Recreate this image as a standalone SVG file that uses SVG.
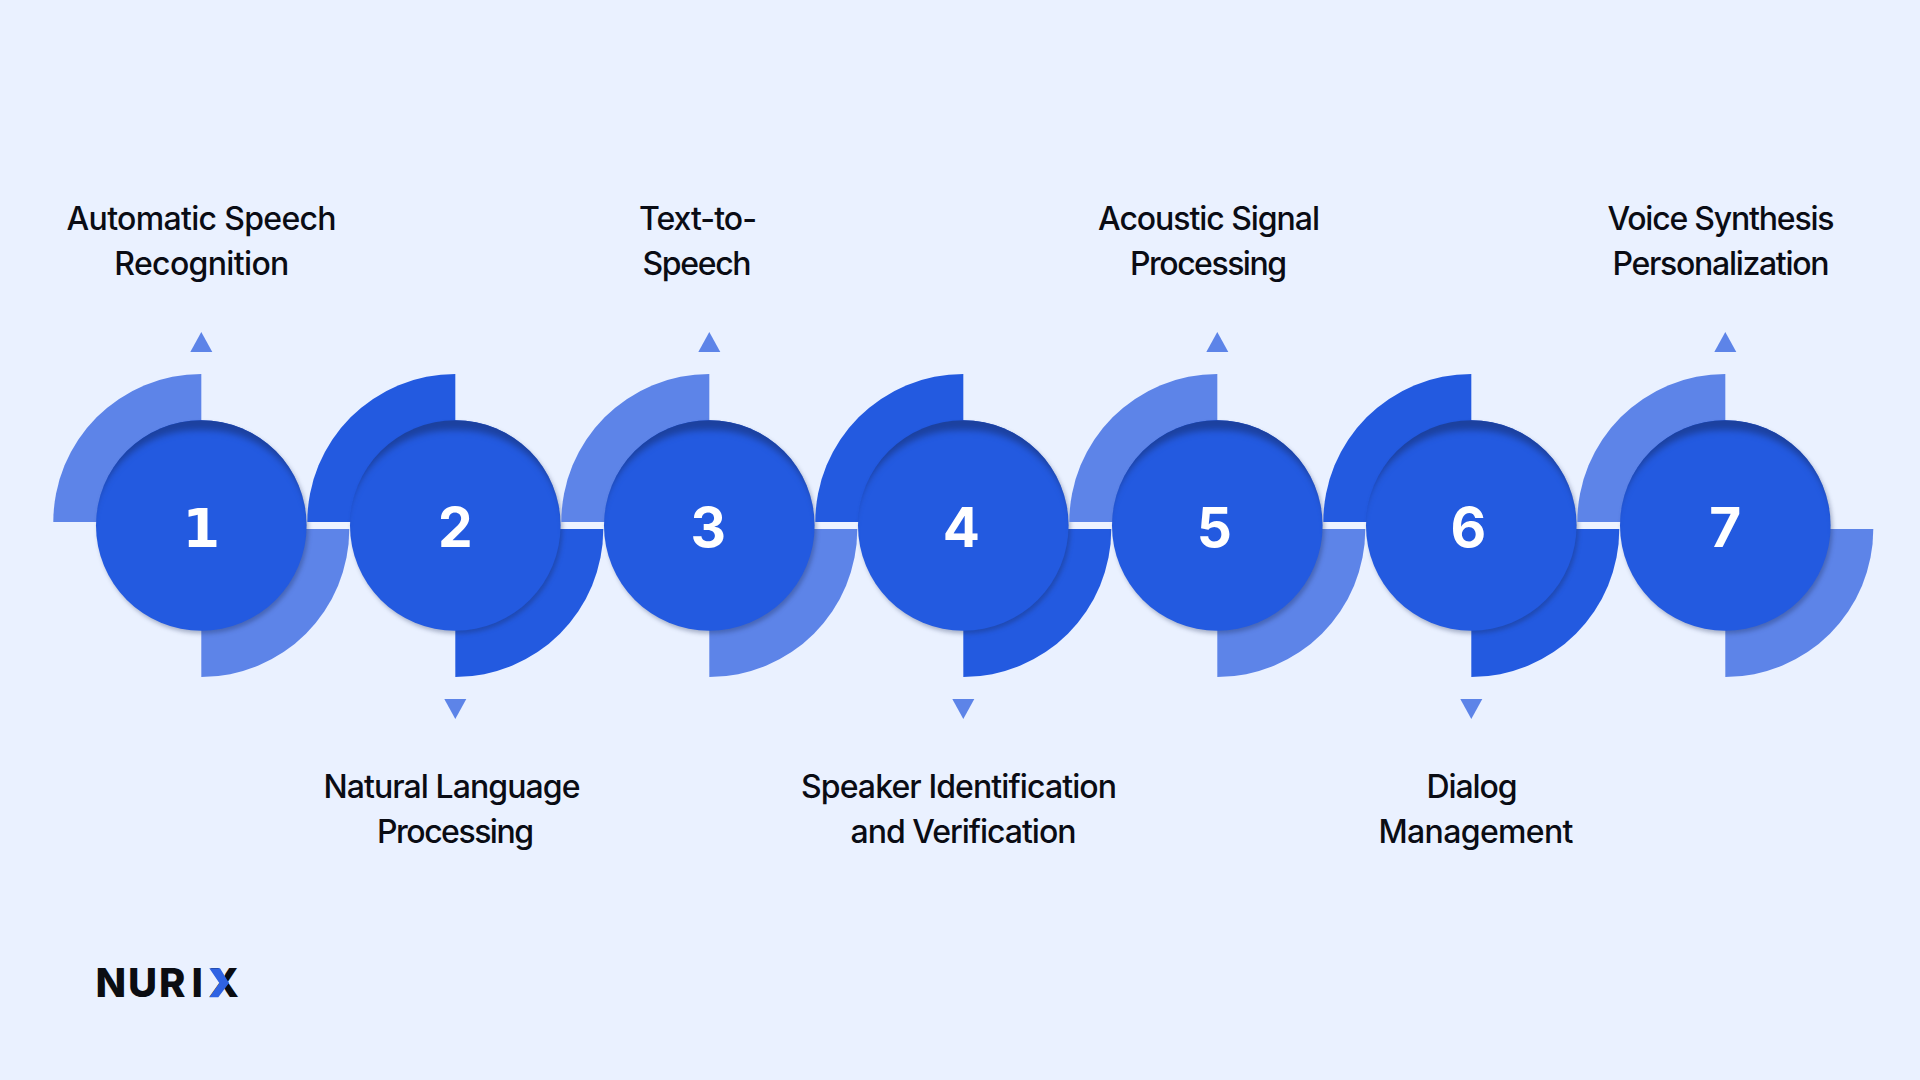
<svg xmlns="http://www.w3.org/2000/svg" width="1920" height="1080" viewBox="0 0 1920 1080">
<defs>
<style>
.dark{fill:#235AE0}
.light{fill:#5D84E8}
.tri{fill:#5D84E8}
.disc{fill:#235AE0;filter:url(#disc)}
.num{font-family:"Inter","DejaVu Sans",sans-serif;font-weight:700;font-size:55px;fill:#fff;text-anchor:middle}
.numd{font-family:"DejaVu Sans",sans-serif;font-weight:700;font-size:54px;fill:#fff;text-anchor:middle}
.lab{font-family:"Inter","Noto Sans",sans-serif;font-size:32px;font-weight:450;fill:#0a0c14;text-anchor:middle}
.bar{fill:#EEF3FF}
.logo{font-family:"Inter","Liberation Sans",sans-serif;font-weight:800;font-size:40px;fill:#0b0d12}
</style>
<filter id="disc" x="-15%" y="-15%" width="130%" height="130%" color-interpolation-filters="sRGB">
<feMorphology in="SourceAlpha" operator="dilate" radius="5" result="m"/>
<feGaussianBlur in="m" stdDeviation="3" result="b"/>
<feOffset in="b" dy="15" result="o"/>
<feComposite in="SourceAlpha" in2="o" operator="out" result="edge"/>
<feFlood flood-color="#1C419F" flood-opacity="1"/>
<feComposite in2="edge" operator="in" result="inner"/>
<feOffset in="SourceAlpha" dx="1.5" dy="3" result="d"/>
<feGaussianBlur in="d" stdDeviation="2" result="db"/>
<feFlood flood-color="#1a2a55" flood-opacity=".32"/>
<feComposite in2="db" operator="in" result="drop"/>
<feMerge><feMergeNode in="drop"/><feMergeNode in="SourceGraphic"/><feMergeNode in="inner"/></feMerge>
</filter>
<path id="tl" d="M0 -3.5V-151.5A148 148 0 0 0 -148 -3.5Z"/>
<path id="br" d="M0 3.5V151.5A148 148 0 0 0 148 3.5Z"/>
<path id="up" d="M-11 -173.5L0 -193.5L11 -173.5Z"/>
<path id="down" d="M-11 173.5L0 193.5L11 173.5Z"/>
</defs>
<rect width="1920" height="1080" fill="#EAF1FF"/>
<g id="connectors">
<rect class="bar" x="306" y="522" width="44" height="7"/>
<rect class="bar" x="560" y="522" width="44" height="7"/>
<rect class="bar" x="814" y="522" width="44" height="7"/>
<rect class="bar" x="1068" y="522" width="44" height="7"/>
<rect class="bar" x="1322" y="522" width="44" height="7"/>
<rect class="bar" x="1576" y="522" width="44" height="7"/>
</g>
<g id="node1">
<g transform="translate(201.3 525.5)"><use href="#tl" class="light"/><use href="#br" class="light"/><use href="#up" class="tri"/><circle class="disc" r="105.3"/><text class="numd" x="0" y="21">1</text></g>
<text class="lab"><tspan x="201.6" y="230" textLength="270">Automatic Speech</tspan><tspan x="201.8" y="275" textLength="175">Recognition</tspan></text>
</g>
<g id="node2">
<g transform="translate(455.3 525.5)"><use href="#tl" class="dark"/><use href="#br" class="dark"/><use href="#down" class="tri"/><circle class="disc" r="105.3"/><text class="num" x="0" y="21">2</text></g>
<text class="lab"><tspan x="452" y="798" textLength="257">Natural Language</tspan><tspan x="455.5" y="843" textLength="157">Processing</tspan></text>
</g>
<g id="node3">
<g transform="translate(709.3 525.5)"><use href="#tl" class="light"/><use href="#br" class="light"/><use href="#up" class="tri"/><circle class="disc" r="105.3"/><text class="num" x="-1" y="21">3</text></g>
<text class="lab"><tspan x="698" y="230" textLength="118">Text-to-</tspan><tspan x="697" y="275" textLength="109">Speech</tspan></text>
</g>
<g id="node4">
<g transform="translate(963.3 525.5)"><use href="#tl" class="dark"/><use href="#br" class="dark"/><use href="#down" class="tri"/><circle class="disc" r="105.3"/><text class="num" x="-2" y="21">4</text></g>
<text class="lab"><tspan x="959" y="798" textLength="316">Speaker Identification</tspan><tspan x="963.5" y="843" textLength="226">and Verification</tspan></text>
</g>
<g id="node5">
<g transform="translate(1217.3 525.5)"><use href="#tl" class="light"/><use href="#br" class="light"/><use href="#up" class="tri"/><circle class="disc" r="105.3"/><text class="num" x="-3" y="21">5</text></g>
<text class="lab"><tspan x="1209" y="230" textLength="222">Acoustic Signal</tspan><tspan x="1208.5" y="275" textLength="157">Processing</tspan></text>
</g>
<g id="node6">
<g transform="translate(1471.3 525.5)"><use href="#tl" class="dark"/><use href="#br" class="dark"/><use href="#down" class="tri"/><circle class="disc" r="105.3"/><text class="num" x="-3" y="21">6</text></g>
<text class="lab"><tspan x="1472" y="798" textLength="91">Dialog</tspan><tspan x="1476" y="843" textLength="195">Management</tspan></text>
</g>
<g id="node7">
<g transform="translate(1725.3 525.5)"><use href="#tl" class="light"/><use href="#br" class="light"/><use href="#up" class="tri"/><circle class="disc" r="105.3"/><text class="num" x="0" y="21">7</text></g>
<text class="lab"><tspan x="1721" y="230" textLength="227">Voice Synthesis</tspan><tspan x="1721" y="275" textLength="217">Personalization</tspan></text>
</g>
<g id="logo">
<text class="logo" x="95.5 128 159 191.5" y="997.3">NURI</text>
<text class="logo" x="208.5" y="997.3">X</text>
<path fill="#2F63E3" d="M209.3 968.3H220L229 983L218.3 997.3H209.3L219.3 983Z"/>
</g>
</svg>
